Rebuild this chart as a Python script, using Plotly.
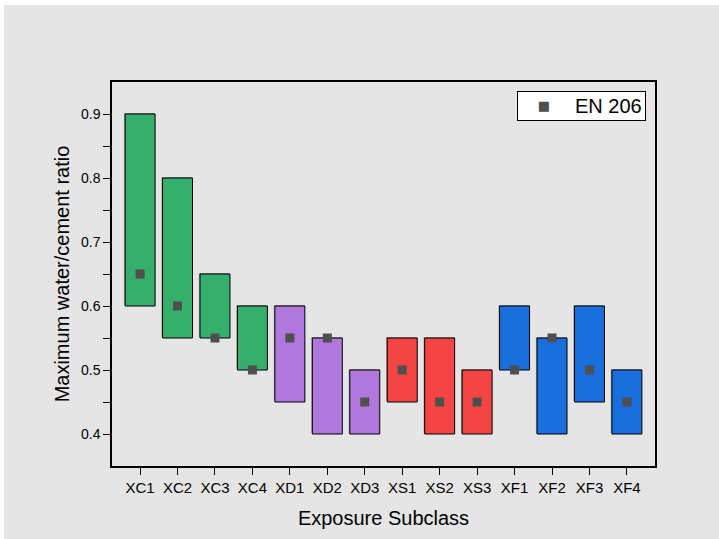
import plotly.graph_objects as go

categories = ["XC1", "XC2", "XC3", "XC4", "XD1", "XD2", "XD3",
              "XS1", "XS2", "XS3", "XF1", "XF2", "XF3", "XF4"]
range_min = [0.60, 0.55, 0.55, 0.50, 0.45, 0.40, 0.40,
             0.45, 0.40, 0.40, 0.50, 0.40, 0.45, 0.40]
range_max = [0.90, 0.80, 0.65, 0.60, 0.60, 0.55, 0.50,
             0.55, 0.55, 0.50, 0.60, 0.55, 0.60, 0.50]
en206 = [0.65, 0.60, 0.55, 0.50, 0.55, 0.55, 0.45,
         0.50, 0.45, 0.45, 0.50, 0.55, 0.50, 0.45]
legend_label = "EN 206"
group_colors = {"XC": "#36ae6c", "XD": "#b077dd", "XS": "#f44444", "XF": "#1a6fdc"}
bar_colors = [group_colors[c[:2]] for c in categories]

W, H = 719, 539
L, R, T, B = 112, 64, 82, 73
pw, ph = W - L - R, H - T - B

fig = go.Figure()

# subtle shadow
fig.add_trace(go.Bar(
    x=categories, y=[b - a for a, b in zip(range_min, range_max)],
    base=[a + 0.0015 for a in range_min], width=0.83, offset=-0.43,
    marker=dict(color="rgba(70,70,70,0.45)", line=dict(width=0)),
    showlegend=False, hoverinfo="skip"))

fig.add_trace(go.Bar(
    x=categories, y=[b - a for a, b in zip(range_min, range_max)],
    base=range_min, width=0.8,
    marker=dict(color=bar_colors, line=dict(color="black", width=1)),
    showlegend=False))

fig.add_trace(go.Scatter(
    x=categories, y=en206, mode="markers", name=legend_label, showlegend=False,
    marker=dict(symbol="square", size=9, color="#4f4f4f", line=dict(width=0))))

nb = "&nbsp;"
fig.update_layout(
    width=W, height=H,
    margin=dict(l=L, r=R, t=T, b=B),
    paper_bgcolor="white", plot_bgcolor="rgba(0,0,0,0)",
    barmode="overlay",
    font=dict(family="Liberation Sans, Arial, sans-serif", size=14, color="black"),
    shapes=[dict(type="rect", xref="paper", yref="paper", layer="below",
                 x0=(4 - L) / pw, x1=(W - L) / pw,
                 y0=(H - B - H) / ph, y1=(H - B - 5) / ph,
                 fillcolor="#e5e5e5", line=dict(width=0))],
    annotations=[dict(
        xref="paper", yref="paper", x=(646 - L) / pw, y=(H - B - 91) / ph,
        xanchor="right", yanchor="top", align="left", showarrow=False,
        text=nb * 3
             + "<span style='font-family:DejaVu Sans;font-size:13px;color:#4f4f4f;baseline-shift:3px'>■</span>"
             + nb * 4 + "<span style='font-size:10px'>&nbsp;</span>" + legend_label,
        font=dict(size=20, color="black"),
        bgcolor="white", bordercolor="black", borderwidth=1, borderpad=3)],
    xaxis=dict(range=[-0.75, 13.75], showline=True, linecolor="black", linewidth=1.5,
               mirror=True, ticks="outside", ticklen=7, tickwidth=1.2, tickcolor="black",
               showgrid=False, zeroline=False, tickfont=dict(size=15),
               title=dict(text="Exposure Subclass", font=dict(size=20), standoff=16)),
    yaxis=dict(range=[0.35, 0.95], showline=True, linecolor="black", linewidth=1.5,
               mirror=True, ticks="outside", ticklen=7, tickwidth=1.2, tickcolor="black",
               tickvals=[0.4, 0.5, 0.6, 0.7, 0.8, 0.9], tickformat=".1f",
               minor=dict(tickvals=[0.45, 0.55, 0.65, 0.75, 0.85], ticks="outside",
                          ticklen=7, tickwidth=1.2, tickcolor="black", showgrid=False),
               showgrid=False, zeroline=False, tickfont=dict(size=14),
               title=dict(text="Maximum water/cement ratio", font=dict(size=20), standoff=6)),
)

fig.write_html("out.html", config={"displayModeBar": False},
               post_script="document.body.style.margin='0';")
